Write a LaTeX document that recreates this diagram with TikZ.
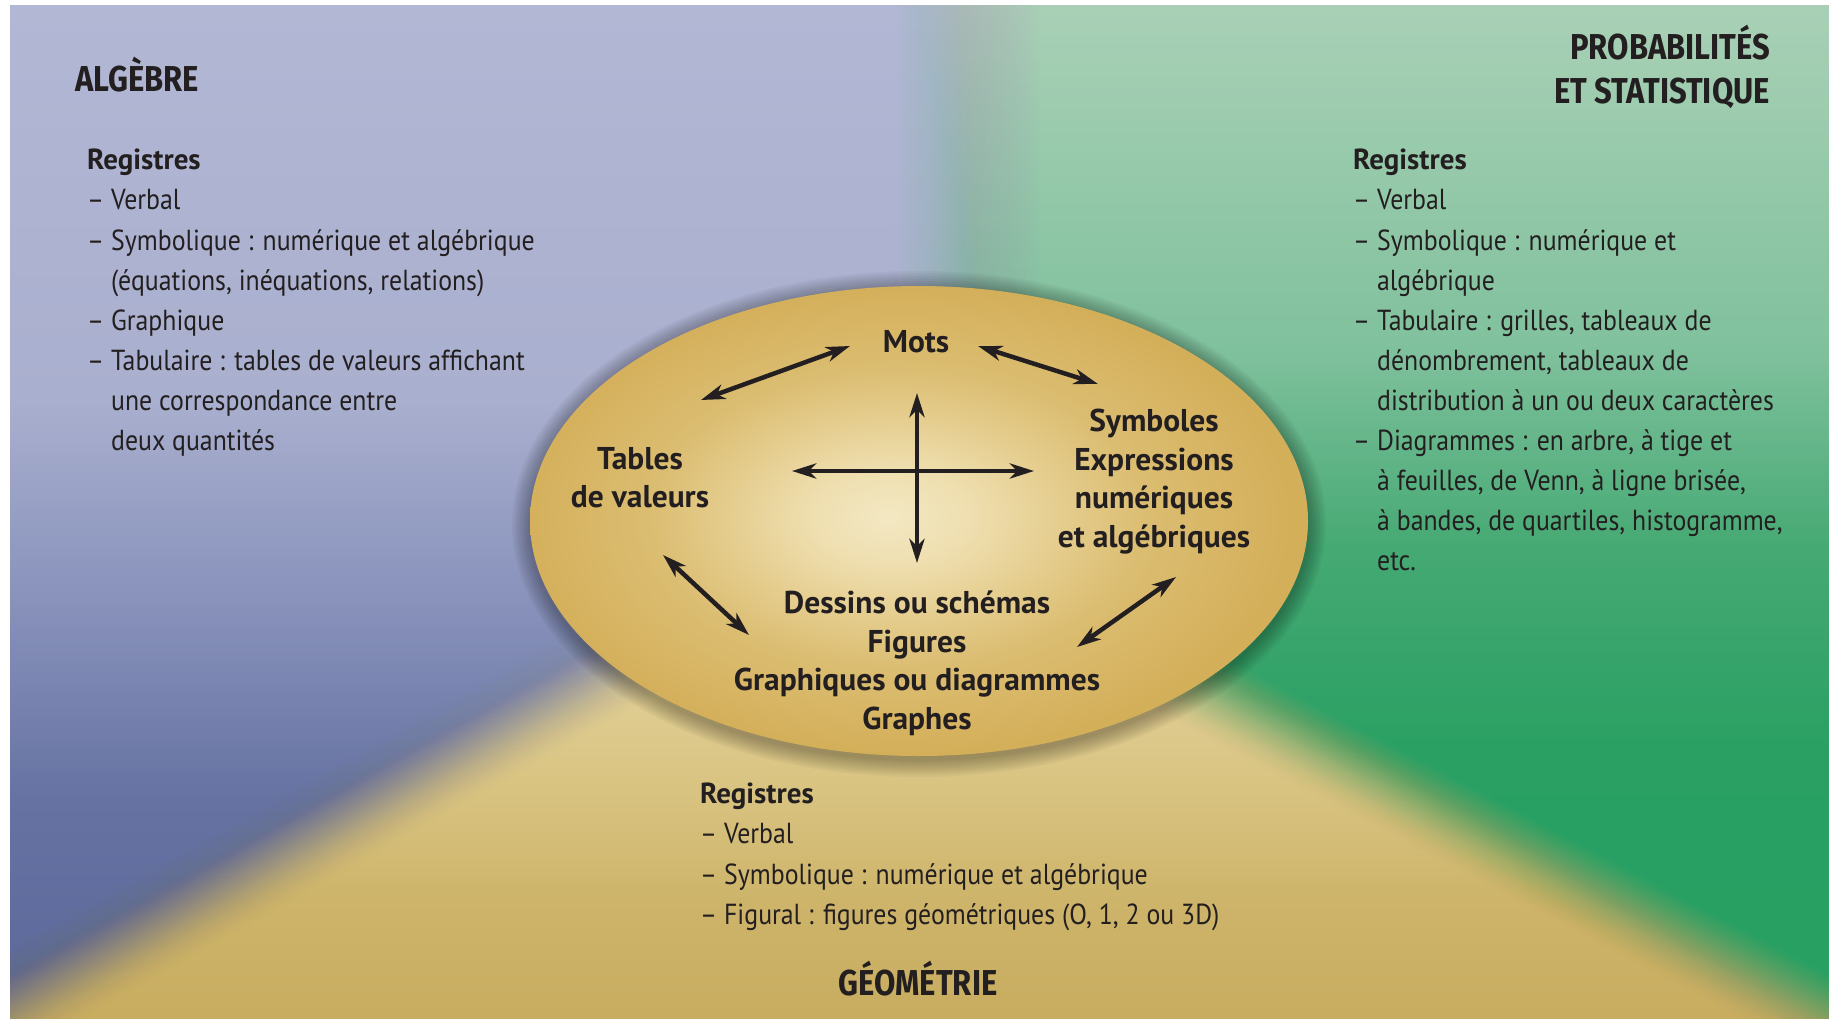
\documentclass[tikz,border=0pt]{standalone}
\usepackage{fontspec}
\setmainfont{PT Sans}
\newfontfamily\bodyfont{PT Sans}[FakeStretch=0.89]
\newfontfamily\titlefont{Fira Sans}[FakeStretch=0.86]
\newcommand\regtitle[1]{{\rmfamily\bfseries #1}}
\usetikzlibrary{calc,arrows.meta}

\definecolor{ink}{HTML}{231F20}
% blue (algebra)
\definecolor{bT}{HTML}{B2B7D4}
\definecolor{bA}{HTML}{A9AFCE}
\definecolor{bB6}{HTML}{8892BB}
\definecolor{bC}{HTML}{6672A2}
\definecolor{bD}{HTML}{5C6899}
% green (probability)
\definecolor{gT}{HTML}{A9D0B6}
\definecolor{gA}{HTML}{80C19D}
\definecolor{gB}{HTML}{45A973}
\definecolor{gC}{HTML}{2AA063}
\definecolor{gD}{HTML}{27A062}
% tan (geometry)
\definecolor{tT}{HTML}{E6D7A3}
\definecolor{tA}{HTML}{D8C27F}
\definecolor{tB}{HTML}{CDB46A}
\definecolor{tD}{HTML}{C8AD60}
% ellipse
\definecolor{e0}{HTML}{F3E8C3}
\definecolor{e1}{HTML}{EFDFB0}
\definecolor{e2}{HTML}{E6CF92}
\definecolor{e3}{HTML}{DBBD71}
\definecolor{e4}{HTML}{D4AF5A}

\pgfdeclareverticalshading{blueshade}{100bp}{color(0bp)=(bD); color(25bp)=(bD); color(35.8bp)=(bC); color(45.6bp)=(bB6); color(55.5bp)=(bA); color(75bp)=(bT); color(100bp)=(bT)}
\pgfdeclareverticalshading{greenshade}{100bp}{color(0bp)=(gD); color(25bp)=(gD); color(38.2bp)=(gC); color(48.1bp)=(gB); color(58bp)=(gA); color(75bp)=(gT); color(100bp)=(gT)}
\pgfdeclareverticalshading{tanshade}{100bp}{color(0bp)=(tD); color(25bp)=(tD); color(30.8bp)=(tB); color(35.8bp)=(tA); color(45.6bp)=(tT); color(75bp)=(tT); color(100bp)=(tT)}
\pgfdeclareradialshading{ellshade}{\pgfpoint{-2bp}{0.5bp}}{color(0bp)=(e0); color(5bp)=(e1); color(10bp)=(e2); color(16bp)=(e3); color(25bp)=(e4); color(50bp)=(e4)}

\tikzset{
  title/.style={font=\titlefont\fontsize{36}{44}\selectfont\bfseries, text=ink, inner sep=0pt},
  body/.style={font=\bodyfont\fontsize{29}{40.1}\selectfont, text=ink, inner sep=0pt, align=left, anchor=north west},
  inner/.style={font=\rmfamily\fontsize{31.5}{38.5}\selectfont\bfseries, text=ink, inner sep=0pt, align=center},
  dbl/.style={line width=4.5pt, draw=ink,
    arrows={Stealth[length=24pt,width=15pt,inset=7pt]-Stealth[length=24pt,width=15pt,inset=7pt]}}
}

% opacity of nested strip j (of N) giving a smoothstep blend
\newcommand\stripop[2]{%
  \pgfmathsetmacro\ua{(#1+0.5)/#2}%
  \pgfmathsetmacro\ub{min((#1+1.5)/#2,1)}%
  \pgfmathsetmacro\sa{3*\ua*\ua-2*\ua*\ua*\ua}%
  \pgfmathsetmacro\sb{#1<#2-1 ? 3*\ub*\ub-2*\ub*\ub*\ub : 1}%
  \pgfmathsetmacro\op{1-\sa/\sb}}

\begin{document}
\begin{tikzpicture}[x=1pt,y=-1pt]
\useasboundingbox (0,0) rectangle (1829,1018);
\fill[white] (0,0) rectangle (1829,1018);

\begin{scope}
\clip (10,5) rectangle (1829,1018);
% tan base
\shade[shading=tanshade] (10,5) rectangle (1829,1018);
% blue core
\begin{scope}
  \clip (-115,5) -- (1050,5) -- (1050,450) -- (934.3,428.4) -- (-112.1,1016.4) -- cycle;
  \shade[shading=blueshade] (10,5) rectangle (1829,1018);
\end{scope}
% blue soft edge over tan (nested strips, W = 100)
\foreach \j in {0,...,39}{
  \stripop{\j}{40}
  \pgfmathsetmacro\tb{-50+2.5*\j+2.5}
  \pgfmathsetmacro\xc{-87.6+\tb*0.490}\pgfmathsetmacro\yc{1060.0+\tb*0.872}
  \pgfmathsetmacro\xd{958.8+\tb*0.490}\pgfmathsetmacro\yd{472.0+\tb*0.872}
  \begin{scope}
    \clip (934.3,428.4) -- (-112.1,1016.4) -- (\xc,\yc) -- (\xd,\yd) -- cycle;
    \shade[shading=blueshade, opacity=\op] (10,5) rectangle (1829,1018);
  \end{scope}
}
% green core
\begin{scope}
  \clip (1040,5) -- (1960,5) -- (1957.1,1020.7) -- (893.4,465.7) -- (1040,420) -- cycle;
  \shade[shading=greenshade] (10,5) rectangle (1829,1018);
\end{scope}
% green soft edge over tan (nested strips, W = 100)
\foreach \j in {0,...,39}{
  \stripop{\j}{40}
  \pgfmathsetmacro\tb{-50+2.5*\j+2.5}
  \pgfmathsetmacro\xc{1934.0-\tb*0.4624}\pgfmathsetmacro\yc{1065.0+\tb*0.8867}
  \pgfmathsetmacro\xd{870.3-\tb*0.4624}\pgfmathsetmacro\yd{510.0+\tb*0.8867}
  \begin{scope}
    \clip (893.4,465.7) -- (1957.1,1020.7) -- (\xc,\yc) -- (\xd,\yd) -- cycle;
    \shade[shading=greenshade, opacity=\op] (10,5) rectangle (1829,1018);
  \end{scope}
}
% green soft edge over blue (nested vertical strips, x 890..1040)
\foreach \j in {0,...,59}{
  \stripop{\j}{60}
  \pgfmathsetmacro\xa{1040-2.5*\j-2.5}
  \begin{scope}
    \clip (\xa,5) rectangle (1045,430);
    \shade[shading=greenshade, opacity=\op] (10,5) rectangle (1829,1018);
  \end{scope}
}
\end{scope}

% ellipse shadow
\foreach \r in {18,16,...,2}{
  \fill[black, opacity=0.035] (919,524) ellipse ({389+\r} and {235+\r});
}
% ellipse
\shade[shading=ellshade] (919,521) ellipse (389 and 235);

% titles
\node[title, anchor=base west] (alg) at (75,91) {ALGÈBRE};
\node[title, anchor=base east] (prob1) at (1770,59) {PROBABILITÉS};
\node[title, anchor=base east] (prob2) at (1770,103) {ET STATISTIQUE};
\node[title, anchor=base] (geo) at (918,995) {GÉOMÉTRIE};

% register lists
\node[body] (regalg) at (87,149) {\regtitle{Registres}\\
– Verbal\\
– Symbolique : numérique et algébrique\\
\phantom{– }(équations, inéquations, relations)\\
– Graphique\\
– Tabulaire : tables de valeurs affichant\\
\phantom{– }une correspondance entre\\
\phantom{– }deux quantités};

\node[body] (regprob) at (1353,149) {\regtitle{Registres}\\
– Verbal\\
– Symbolique : numérique et\\
\phantom{– }algébrique\\
– Tabulaire : grilles, tableaux de\\
\phantom{– }dénombrement, tableaux de\\
\phantom{– }distribution à un ou deux caractères\\
– Diagrammes : en arbre, à tige et\\
\phantom{– }à feuilles, de Venn, à ligne brisée,\\
\phantom{– }à bandes, de quartiles, histogramme,\\
\phantom{– }etc.};

\node[body] (reggeo) at (700,783) {\regtitle{Registres}\\
– Verbal\\
– Symbolique : numérique et algébrique\\
– Figural : figures géométriques (O, 1, 2 ou 3D)};

% inner registers
\node[inner, anchor=base] (mots) at (916,352) {Mots};
\node[inner, anchor=north] (tables) at (640,447) {Tables\\de valeurs};
\node[inner, anchor=north] (symb) at (1154,409) {Symboles\\Expressions\\numériques\\et algébriques};
\node[inner, anchor=north] (dessins) at (917,591) {Dessins ou schémas\\Figures\\Graphiques ou diagrammes\\Graphes};

% arrow ends
\coordinate (tlA) at (701,400); \coordinate (tlB) at (850,346);
\coordinate (trA) at (978,346); \coordinate (trB) at (1098,384);
\coordinate (blA) at (663,555); \coordinate (blB) at (749,635);
\coordinate (brA) at (1176,577); \coordinate (brB) at (1077,647);
\coordinate (vA) at (917,393); \coordinate (vB) at (917,563);
\coordinate (hA) at (792,471); \coordinate (hB) at (1034,471);

\draw[dbl] (tlA) -- (tlB);
\draw[dbl] (trA) -- (trB);
\draw[dbl] (blA) -- (blB);
\draw[dbl] (brA) -- (brB);
\draw[dbl] (vA) -- (vB);
\draw[dbl] (hA) -- (hB);
\end{tikzpicture}
\end{document}
